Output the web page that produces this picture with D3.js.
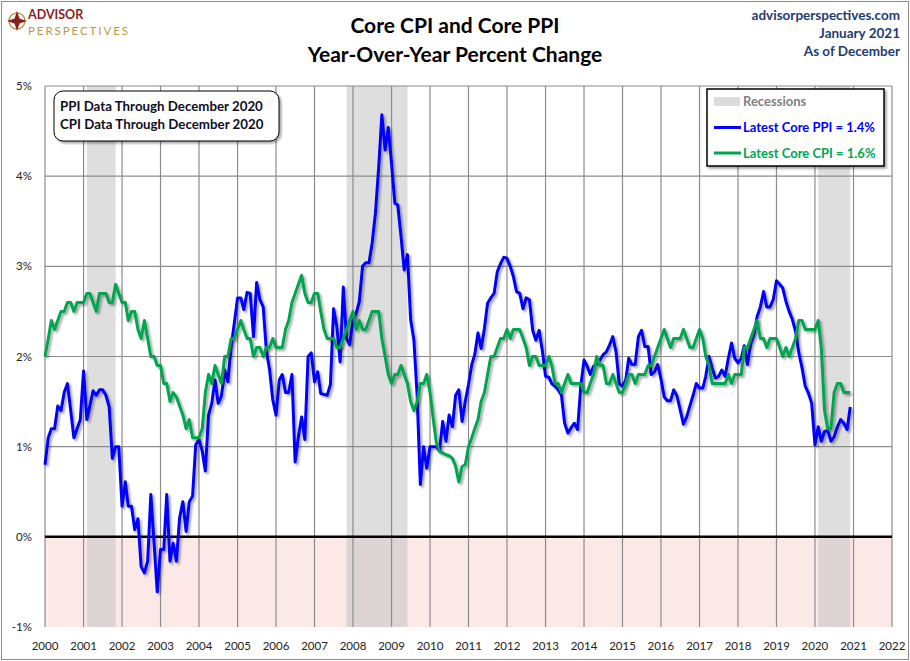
<!DOCTYPE html>
<html>
<head>
<meta charset="utf-8">
<script src="https://cdn.jsdelivr.net/npm/d3@7"></script>
<style>
  body { margin: 0; background: #fff; }
  svg { display: block; font-family: Lato, "Open Sans", sans-serif; }
</style>
</head>
<body>
<svg id="chart" width="910" height="661"></svg>
<script>
// monthly year-over-year % change, Jan 2000 .. Dec 2020, one row per year
const corePPI = [
  0.8, 1.1, 1.2, 1.2, 1.45, 1.4, 1.6, 1.7, 1.4, 1.1, 1.2, 1.3,
  1.84, 1.3, 1.45, 1.62, 1.57, 1.63, 1.63, 1.57, 1.44, 0.87, 1.0, 1.0,
  0.34, 0.61, 0.34, 0.34, 0.08, 0.2, -0.33, -0.4, -0.27, 0.47, -0.07, -0.61,
  -0.14, -0.14, 0.47, -0.27, -0.07, -0.27, 0.21, 0.39, 0.06, 0.39, 0.45, 1.02,
  1.08, 0.95, 0.73, 1.35, 1.48, 1.74, 1.48, 1.56, 1.85, 1.72, 2.11, 2.37,
  2.65, 2.65, 2.52, 2.71, 2.7, 2.22, 2.82, 2.63, 2.55, 2.07, 1.85, 1.52,
  1.35, 1.74, 1.8, 1.6, 1.6, 1.8, 0.83, 1.11, 1.33, 1.08, 2.0, 2.04,
  1.72, 1.83, 1.59, 1.58, 1.57, 1.69, 2.53, 2.33, 1.94, 2.77, 2.2, 2.13,
  2.41, 2.48, 2.61, 3.0, 3.04, 3.04, 3.26, 3.59, 4.1, 4.68, 4.29, 4.54,
  4.14, 3.7, 3.68, 3.33, 2.96, 3.13, 2.41, 2.18, 1.56, 0.58, 1.0, 0.76,
  1.0, 1.0, 1.0, 0.95, 1.28, 1.06, 1.35, 1.22, 1.57, 1.63, 1.28, 1.5,
  1.69, 1.91, 2.02, 2.26, 2.09, 2.31, 2.59, 2.65, 2.7, 2.94, 3.03, 3.1,
  3.09, 3.0, 2.89, 2.72, 2.7, 2.53, 2.65, 2.63, 2.29, 2.18, 2.29, 2.07,
  1.78, 1.77, 1.7, 1.67, 1.63, 1.57, 1.26, 1.15, 1.21, 1.26, 1.19, 1.67,
  1.96, 1.89, 1.8, 1.89, 1.92, 1.96, 2.02, 2.05, 2.13, 2.22, 2.05, 1.7,
  1.67, 1.74, 1.98, 1.91, 1.91, 2.22, 2.29, 2.11, 2.11, 1.8, 1.83, 1.91,
  1.75, 1.55, 1.51, 1.51, 1.63, 1.56, 1.41, 1.25, 1.33, 1.45, 1.57, 1.7,
  1.65, 1.65, 1.78, 2.0, 1.87, 1.76, 1.78, 1.85, 1.78, 1.98, 2.15, 1.98,
  1.93, 1.98, 2.12, 1.91, 2.14, 2.24, 2.44, 2.55, 2.72, 2.55, 2.55, 2.63,
  2.84, 2.8, 2.76, 2.61, 2.5, 2.41, 2.28, 2.04, 1.87, 1.67, 1.59, 1.48,
  1.02, 1.22, 1.06, 1.17, 1.18, 1.06, 1.11, 1.22, 1.3, 1.26, 1.19, 1.44
]
const coreCPI = [
  2.0, 2.2, 2.4, 2.3, 2.4, 2.5, 2.5, 2.6, 2.6, 2.5, 2.6, 2.6,
  2.6, 2.7, 2.7, 2.6, 2.5, 2.7, 2.7, 2.7, 2.6, 2.6, 2.8, 2.7,
  2.6, 2.6, 2.4, 2.5, 2.5, 2.3, 2.2, 2.4, 2.2, 2.0, 2.0, 1.9,
  1.9, 1.7, 1.7, 1.5, 1.6, 1.55, 1.45, 1.35, 1.2, 1.3, 1.1, 1.1,
  1.1, 1.2, 1.6, 1.8, 1.7, 1.9, 1.8, 1.7, 2.0, 2.0, 2.2, 2.2,
  2.3, 2.4, 2.3, 2.2, 2.2, 2.0, 2.1, 2.1, 2.0, 2.1, 2.1, 2.2,
  2.1, 2.1, 2.1, 2.3, 2.4, 2.6, 2.7, 2.8, 2.9, 2.7, 2.6, 2.6,
  2.7, 2.7, 2.5, 2.3, 2.2, 2.2, 2.2, 2.1, 2.1, 2.2, 2.3, 2.4,
  2.5, 2.3, 2.4, 2.3, 2.3, 2.4, 2.5, 2.5, 2.5, 2.2, 2.0, 1.8,
  1.7, 1.8, 1.8, 1.9, 1.8, 1.7, 1.5, 1.4, 1.5, 1.7, 1.7, 1.8,
  1.6, 1.3, 1.05, 0.95, 0.93, 0.91, 0.9, 0.87, 0.78, 0.61, 0.78, 0.8,
  1.0, 1.1, 1.2, 1.3, 1.5, 1.6, 1.8, 2.0, 2.0, 2.1, 2.2, 2.2,
  2.3, 2.2, 2.3, 2.3, 2.3, 2.2, 2.1, 1.9, 2.0, 2.0, 1.9, 1.9,
  1.9, 2.0, 1.9, 1.7, 1.7, 1.6, 1.7, 1.8, 1.7, 1.7, 1.7, 1.7,
  1.6, 1.6, 1.7, 1.8, 2.0, 1.9, 1.9, 1.7, 1.7, 1.8, 1.7, 1.6,
  1.6, 1.7, 1.8, 1.8, 1.7, 1.8, 1.8, 1.8, 1.9, 1.9, 2.0, 2.1,
  2.2, 2.3, 2.2, 2.1, 2.2, 2.2, 2.2, 2.3, 2.2, 2.1, 2.1, 2.2,
  2.3, 2.2, 2.0, 1.9, 1.7, 1.7, 1.7, 1.7, 1.7, 1.8, 1.7, 1.8,
  1.8, 1.8, 2.1, 2.1, 2.2, 2.3, 2.4, 2.2, 2.2, 2.1, 2.2, 2.2,
  2.2, 2.1, 2.0, 2.1, 2.0, 2.1, 2.2, 2.4, 2.4, 2.3, 2.3, 2.3,
  2.3, 2.4, 2.1, 1.4, 1.2, 1.2, 1.6, 1.7, 1.7, 1.6, 1.6, 1.6
]
// recession spans, [start month, end month]
const recessions = [["2001-02", "2001-11"], ["2007-11", "2009-06"], ["2020-02", "2020-12"]]
const yTicks = [-1, 0, 1, 2, 3, 4, 5]
const xYears = d3.range(2000, 2023)
const noteLines = ["PPI Data Through December 2020", "CPI Data Through December 2020"]
const legendLabels = ["Recessions", "Latest Core PPI = 1.4%", "Latest Core CPI = 1.6%"]

const svg = d3.select("#chart")
const W = 910, H = 661
const plotL = 45, plotR = 892, plotT = 86, plotB = 627
const parseMonth = d3.timeParse("%Y-%m")

const x = d3.scaleTime()
  .domain([new Date(2000, 0, 1), new Date(2022, 0, 1)])
  .range([plotL, plotR])
const y = d3.scaleLinear().domain([-1, 5]).range([plotB, plotT])

const monthDate = i => new Date(2000, i, 1)
const ppiData = corePPI.map((v, i) => ({ date: monthDate(i), v: v }))
const cpiData = coreCPI.map((v, i) => ({ date: monthDate(i), v: v }))

// shadow used by the lines and boxes
const defs = svg.append("defs")
defs.append("filter").attr("id", "shadow")
  .attr("x", "-10%").attr("y", "-10%").attr("width", "130%").attr("height", "130%")
  .append("feDropShadow")
  .attr("dx", 2).attr("dy", 2).attr("stdDeviation", 1.3)
  .attr("flood-color", "#000").attr("flood-opacity", 0.35)

svg.append("rect").attr("x", 0).attr("y", 0).attr("width", W).attr("height", H).attr("fill", "#fff")
svg.append("rect").attr("x", 1.5).attr("y", 1.5).attr("width", W - 3).attr("height", H - 3)
  .attr("fill", "none").attr("stroke", "#8c8c8c").attr("stroke-width", 1)

// negative zone
svg.append("rect")
  .attr("x", plotL).attr("y", y(0)).attr("width", plotR - plotL).attr("height", y(-1) - y(0))
  .attr("fill", "#fde8e8")

// recession bars
svg.append("g").selectAll("rect").data(recessions).enter().append("rect")
  .attr("x", d => x(parseMonth(d[0])))
  .attr("y", plotT)
  .attr("width", d => x(parseMonth(d[1])) - x(parseMonth(d[0])))
  .attr("height", plotB - plotT)
  .attr("fill", "#c8c8c8").attr("opacity", 0.6)

// grid
const grid = svg.append("g").attr("stroke", "#8c8c8c").attr("stroke-width", 1.2)
grid.selectAll("line.v").data(xYears).enter().append("line")
  .attr("x1", d => x(new Date(d, 0, 1))).attr("x2", d => x(new Date(d, 0, 1)))
  .attr("y1", plotT).attr("y2", plotB)
grid.selectAll("line.h").data(yTicks.filter(d => d > 0)).enter().append("line")
  .attr("x1", plotL).attr("x2", plotR)
  .attr("y1", d => y(d)).attr("y2", d => y(d))

svg.append("line").attr("x1", plotL).attr("x2", plotR).attr("y1", y(0)).attr("y2", y(0))
  .attr("stroke", "#000").attr("stroke-width", 2.5)

// axes labels
svg.append("g").selectAll("text").data(yTicks).enter().append("text")
  .attr("x", 32).attr("y", d => y(d) + 4)
  .attr("text-anchor", "end").attr("font-size", 11.5).attr("fill", "#222")
  .text(d => d + "%")
svg.append("g").selectAll("text").data(xYears).enter().append("text")
  .attr("x", d => x(new Date(d, 0, 1))).attr("y", 650)
  .attr("text-anchor", "middle").attr("font-size", 11.5).attr("fill", "#222")
  .text(d => d)

// series
const line = d3.line().x(d => x(d.date)).y(d => y(d.v))
svg.append("path").datum(ppiData).attr("d", line)
  .attr("fill", "none").attr("stroke", "#0000ff").attr("stroke-width", 3)
  .attr("stroke-linejoin", "round").attr("filter", "url(#shadow)")
svg.append("path").datum(cpiData).attr("d", line)
  .attr("fill", "none").attr("stroke", "#00a550").attr("stroke-width", 3)
  .attr("stroke-linejoin", "round").attr("filter", "url(#shadow)")

// note box
const note = svg.append("g")
note.append("rect").attr("x", 54).attr("y", 91).attr("width", 225).attr("height", 50)
  .attr("rx", 9).attr("fill", "#fff").attr("stroke", "#000").attr("stroke-width", 1)
  .attr("filter", "url(#shadow)")
note.selectAll("text").data(noteLines).enter().append("text")
  .attr("x", 60).attr("y", (d, i) => 111 + i * 18)
  .attr("font-size", 13.3).attr("font-weight", "bold").attr("fill", "#0d0d1f")
  .text(d => d)

// legend
const legend = svg.append("g")
legend.append("rect").attr("x", 707).attr("y", 89).attr("width", 177).attr("height", 77)
  .attr("fill", "#fff").attr("stroke", "#000").attr("stroke-width", 1.5)
  .attr("filter", "url(#shadow)")
legend.append("rect").attr("x", 714).attr("y", 97).attr("width", 26).attr("height", 9).attr("fill", "#dcdcdc")
legend.append("line").attr("x1", 714).attr("x2", 741).attr("y1", 127.5).attr("y2", 127.5)
  .attr("stroke", "#0000ff").attr("stroke-width", 3)
legend.append("line").attr("x1", 714).attr("x2", 741).attr("y1", 153).attr("y2", 153)
  .attr("stroke", "#00a550").attr("stroke-width", 3)
legend.selectAll("text").data(legendLabels).enter().append("text")
  .attr("x", 743).attr("y", (d, i) => 106 + i * 26)
  .attr("font-size", 13).attr("font-weight", "bold")
  .attr("fill", (d, i) => ["#808080", "#0000ff", "#00a550"][i])
  .text(d => d)

// titles
svg.append("text").attr("x", 455).attr("y", 33).attr("text-anchor", "middle")
  .attr("font-size", 21).attr("font-weight", "bold").attr("fill", "#000")
  .text("Core CPI and Core PPI")
svg.append("text").attr("x", 455).attr("y", 62).attr("text-anchor", "middle")
  .attr("font-size", 21).attr("font-weight", "bold").attr("fill", "#000")
  .text("Year-Over-Year Percent Change")

const info = ["advisorperspectives.com", "January 2021", "As of December"]
svg.append("g").selectAll("text").data(info).enter().append("text")
  .attr("x", 900).attr("y", (d, i) => 20 + i * 18)
  .attr("text-anchor", "end").attr("font-size", 13.5).attr("font-weight", "bold")
  .attr("fill", "#1f3b73")
  .text(d => d)

// logo
const logo = svg.append("g").attr("transform", "translate(17,21)")
logo.append("circle").attr("r", 8).attr("fill", "none").attr("stroke", "#b89a4a").attr("stroke-width", 1.5)
logo.append("path").attr("d", "M0,-10 L2.5,-2.5 L10,0 L2.5,2.5 L0,10 L-2.5,2.5 L-10,0 L-2.5,-2.5 Z")
  .attr("fill", "#8b1e1e")
svg.append("text").attr("x", 28).attr("y", 19).attr("font-size", 12.5).attr("font-weight", "bold")
  .attr("fill", "#8b1e1e").text("ADVISOR")
svg.append("text").attr("x", 28).attr("y", 35).attr("font-size", 11.5)
  .attr("fill", "#b89a4a").attr("textLength", 100).text("PERSPECTIVES")
</script>
</body>
</html>
